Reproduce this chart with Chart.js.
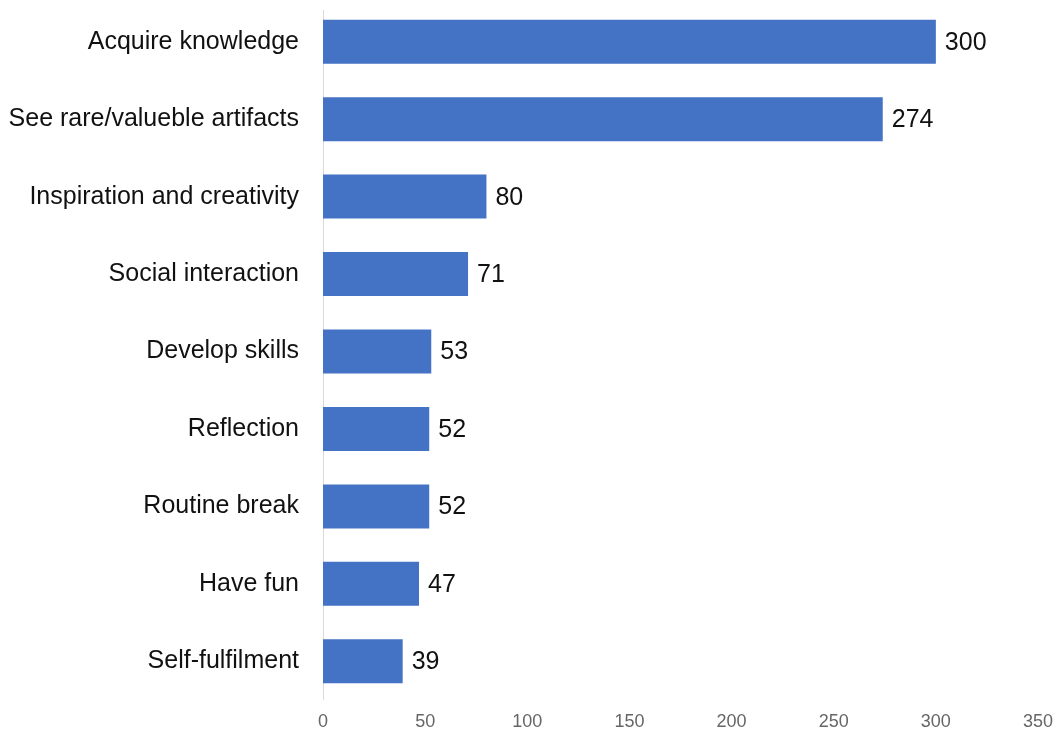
<!DOCTYPE html>
<html>
<head>
<meta charset="utf-8">
<script src="https://cdn.jsdelivr.net/npm/chart.js@4"></script>
<style>
  html, body { margin: 0; padding: 0; background: #fff; }
  #wrap { width: 1059px; height: 731px; }
</style>
</head>
<body>
<div id="wrap"><canvas id="motivesChart"></canvas></div>
<script>
// reasons for visiting, number of answers
const categories = [
  'Acquire knowledge',
  'See rare/valueble artifacts',
  'Inspiration and creativity',
  'Social interaction',
  'Develop skills',
  'Reflection',
  'Routine break',
  'Have fun',
  'Self-fulfilment'
];
const answers = [300, 274, 80, 71, 53, 52, 52, 47, 39];
const xTicks = [0, 50, 100, 150, 200, 250, 300, 350];

const FONT = '"Liberation Sans", Arial, sans-serif';

// thin zero line, a little shorter than the plot area at the top
const zeroLine = {
  id: 'zeroLine',
  beforeDatasetsDraw(chart) {
    const { ctx, chartArea, scales } = chart;
    const x = Math.round(scales.x.getPixelForValue(0)) + 0.5;
    ctx.save();
    ctx.strokeStyle = '#d9d9d9';
    ctx.lineWidth = 1;
    ctx.beginPath();
    ctx.moveTo(x, chartArea.top + 7);
    ctx.lineTo(x, chartArea.bottom);
    ctx.stroke();
    ctx.restore();
  }
};

// number next to the end of each bar
const valueLabels = {
  id: 'valueLabels',
  afterDatasetsDraw(chart) {
    const ctx = chart.ctx;
    ctx.save();
    ctx.font = '25px ' + FONT;
    ctx.fillStyle = '#111';
    ctx.textAlign = 'left';
    ctx.textBaseline = 'middle';
    chart.getDatasetMeta(0).data.forEach((bar, i) => {
      ctx.fillText(String(answers[i]), bar.x + 9, bar.y + 1);
    });
    ctx.restore();
  }
};

new Chart(document.getElementById('motivesChart'), {
  type: 'bar',
  data: {
    labels: categories,
    datasets: [{
      data: answers,
      backgroundColor: '#4472C4',
      categoryPercentage: 1,
      barPercentage: 0.568
    }]
  },
  options: {
    indexAxis: 'y',
    responsive: true,
    maintainAspectRatio: false,
    animation: false,
    layout: { padding: { top: 3, right: 21, bottom: 0, left: 0 } },
    plugins: { legend: { display: false }, tooltip: { enabled: false } },
    scales: {
      x: {
        min: 0,
        max: 350,
        afterBuildTicks: scale => { scale.ticks = xTicks.map(v => ({ value: v })); },
        grid: { display: false, drawTicks: false },
        border: { display: false },
        ticks: {
          padding: 11,
          color: '#666',
          font: { family: FONT, size: 18 }
        },
        afterFit: scale => {
          scale.height = 31;
          scale.paddingLeft = 0;
          scale.paddingRight = 0;
        }
      },
      y: {
        grid: { display: false, drawTicks: false },
        border: { display: false },
        ticks: {
          padding: 24,
          color: '#111',
          font: { family: FONT, size: 25 }
        },
        afterFit: scale => {
          scale.width = 323;
          scale.paddingTop = 0;
          scale.paddingBottom = 0;
        }
      }
    }
  },
  plugins: [zeroLine, valueLabels]
});
</script>
</body>
</html>
